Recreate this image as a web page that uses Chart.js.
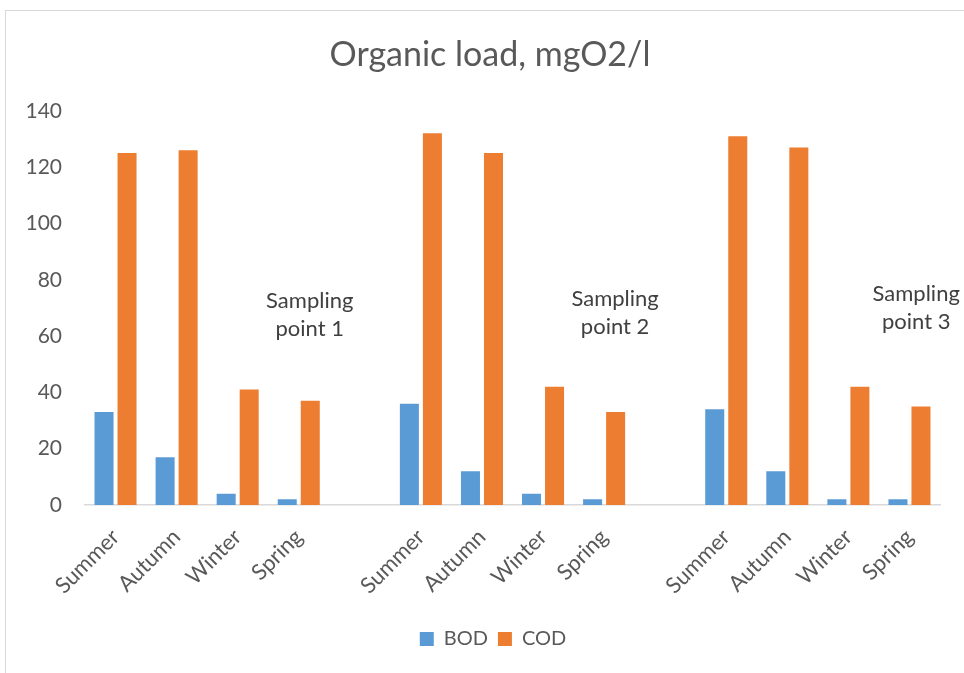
<!DOCTYPE html>
<html>
<head>
<meta charset="utf-8">
<script src="https://cdn.jsdelivr.net/npm/chart.js@4"></script>
<style>
  html, body { margin: 0; padding: 0; background: #fff; overflow: hidden; }
  canvas { display: block; }
</style>
</head>
<body>
<canvas id="chart" width="964" height="673"></canvas>
<script>
// Seasons for each sampling point, with an empty slot between the points
const categories = [
  'Summer', 'Autumn', 'Winter', 'Spring', '',
  'Summer', 'Autumn', 'Winter', 'Spring', '',
  'Summer', 'Autumn', 'Winter', 'Spring'
];
const bodValues = [33, 17, 4, 2, null, 36, 12, 4, 2, null, 34, 12, 2, 2];
const codValues = [125, 126, 41, 37, null, 132, 125, 42, 33, null, 131, 127, 42, 35];
const yTickValues = [0, 20, 40, 60, 80, 100, 120, 140];
const pointNames = ['Sampling point 1', 'Sampling point 2', 'Sampling point 3'];
// where each point name sits, in axis units (category index, value)
const pointNameIndex = [3.18, 8.18, 13.11];
const pointNameValue = [67.4, 68.1, 70.1];

const FONT = 'Lato, Calibri, "Open Sans", sans-serif';
const GREY = '#595959';

const framePlugin = {
  id: 'frame',
  beforeDraw(chart) {
    const ctx = chart.ctx;
    ctx.save();
    ctx.strokeStyle = '#d9d9d9';
    ctx.lineWidth = 1;
    ctx.strokeRect(5.5, 10.5, 2000, 2000);
    ctx.restore();
  }
};

// nudge title and legend to the right of the full-width layout boxes
const centreShiftPlugin = {
  id: 'centreShift',
  afterLayout(chart) {
    const shift = (box, d) => { if (box) { box.left += d; box.right += d; } };
    shift(chart.titleBlock, 20);
    shift(chart.legend, 23);
  }
};

const pointNamePlugin = {
  id: 'pointNames',
  afterDatasetsDraw(chart) {
    const ctx = chart.ctx;
    const xs = chart.scales.x, ys = chart.scales.y;
    ctx.save();
    ctx.fillStyle = '#404040';
    ctx.font = '22px ' + FONT;
    ctx.textAlign = 'center';
    ctx.textBaseline = 'middle';
    pointNames.forEach((name, i) => {
      const x = xs.getPixelForValue(pointNameIndex[i]);
      const y = ys.getPixelForValue(pointNameValue[i]);
      const words = name.split(' ');
      ctx.fillText(words[0], x, y - 14);
      ctx.fillText(words.slice(1).join(' '), x, y + 14);
    });
    ctx.restore();
  }
};

new Chart(document.getElementById('chart'), {
  type: 'bar',
  data: {
    labels: categories,
    datasets: [
      { label: 'BOD', data: bodValues, backgroundColor: '#5b9bd5' },
      { label: 'COD', data: codValues, backgroundColor: '#ed7d31' }
    ]
  },
  options: {
    responsive: false,
    animation: false,
    devicePixelRatio: 1,
    categoryPercentage: 0.754,
    barPercentage: 0.826,
    layout: { padding: { left: 0, right: 24, top: 0, bottom: 14 } },
    plugins: {
      title: {
        display: true,
        text: 'Organic load, mgO2/l',
        color: GREY,
        font: { family: FONT, size: 34, weight: 'normal' },
        padding: { top: 35, bottom: 35 }
      },
      legend: {
        position: 'bottom',
        labels: {
          color: GREY,
          font: { family: FONT, size: 20 },
          boxWidth: 14,
          boxHeight: 14,
          padding: 10
        }
      },
      tooltip: { enabled: false }
    },
    scales: {
      x: {
        grid: { display: false, drawTicks: false },
        border: { display: true, color: '#d9d9d9', width: 1.5 },
        ticks: {
          color: GREY,
          font: { family: FONT, size: 22 },
          maxRotation: 45,
          minRotation: 45,
          autoSkip: false,
          padding: 19
        },
        afterFit(scale) { scale.height = 114; }
      },
      y: {
        min: 0,
        max: 140,
        grid: { display: false, drawTicks: false },
        border: { display: false },
        afterBuildTicks(scale) { scale.ticks = yTickValues.map(v => ({ value: v })); },
        ticks: {
          color: GREY,
          font: { family: FONT, size: 21 },
          padding: 23
        },
        afterFit(scale) { scale.width = 85; }
      }
    }
  },
  plugins: [framePlugin, centreShiftPlugin, pointNamePlugin]
});
</script>
</body>
</html>
